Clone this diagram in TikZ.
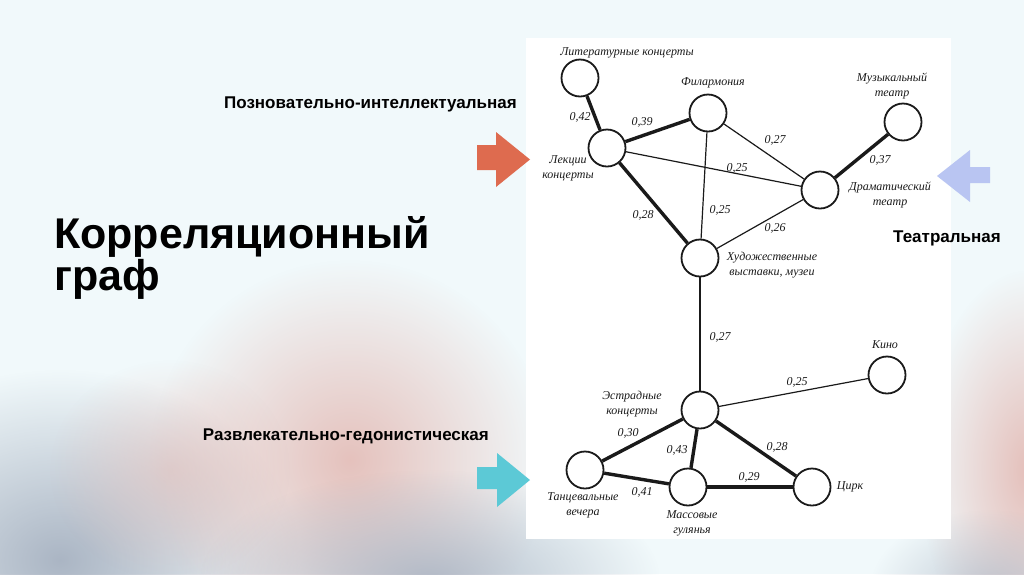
\documentclass[tikz,border=0pt]{standalone}
\usepackage{fontspec}
\setmainfont{Liberation Serif}
\setsansfont{Liberation Sans}
\usetikzlibrary{fadings}
\tikzfading[name=softblob, inner color=transparent!0, outer color=transparent!100]
\definecolor{bg}{HTML}{F1F9FB}
\definecolor{pinkA}{HTML}{E3B8B2}
\definecolor{grayA}{HTML}{A3AEBE}
\definecolor{orangeA}{HTML}{DE6B4F}
\definecolor{cyanA}{HTML}{5CC9D6}
\definecolor{lavA}{HTML}{B9C5F2}
\definecolor{ink}{HTML}{1A1A1A}
\tikzset{
  vtx/.style={circle, draw=ink, line width=1.8pt, fill=white, minimum size=37pt, inner sep=0pt},
  thinedge/.style={draw=ink, line width=1.2pt},
  thickedge/.style={draw=ink, line width=3.4pt},
  lbl/.style={font=\itshape\fontsize{12}{15}\selectfont, text=ink, align=center, inner sep=0pt},
  num/.style={font=\itshape\fontsize{12}{14}\selectfont, text=ink, inner sep=0pt},
  cat/.style={font=\sffamily\bfseries\fontsize{17}{19}\selectfont, text=black, inner sep=0pt},
  ttl/.style={font=\sffamily\bfseries\fontsize{43}{43}\selectfont, anchor=base west, inner sep=0pt},
}
\begin{document}
\begin{tikzpicture}[x=1pt,y=-1pt]
\useasboundingbox (0,0) rectangle (1024,574);
% background
\fill[bg] (0,0) rectangle (1024,574);
\fill[grayA, path fading=softblob, opacity=0.9] (60,560) ellipse (240 and 190);
\fill[pinkA, path fading=softblob, opacity=0.85] (350,460) ellipse (200 and 200);
\fill[grayA, path fading=softblob, opacity=0.8] (430,580) ellipse (230 and 110);
\fill[pinkA, path fading=softblob, opacity=0.5] (170,470) ellipse (120 and 110);
\fill[pinkA, path fading=softblob, opacity=0.9] (1030,470) ellipse (110 and 200);
\fill[grayA, path fading=softblob, opacity=0.6] (990,590) ellipse (120 and 80);
% white panel
\fill[white] (526,38) rectangle (951,539);

% title
\node[ttl] (t1) at (54,248) {Корреляционный};
\node[ttl] (t2) at (54,290) {граф};

% category labels
\node[cat, anchor=east] (c1) at (517,104) {Позновательно-интеллектуальная};
\node[cat, anchor=east] (c2) at (489,436) {Развлекательно-гедонистическая};
\node[cat, anchor=west] (c3) at (893,238) {Театральная};

% category arrows
\fill[orangeA] (477,145) -- (496,145) -- (496,132) -- (530,159.5) -- (496,187) -- (496,170) -- (477,170) -- cycle;
\fill[cyanA] (477,467) -- (497,467) -- (497,453) -- (530,480) -- (497,507) -- (497,489) -- (477,489) -- cycle;
\fill[lavA] (990,167) -- (970,167) -- (970,150) -- (937,176) -- (970,202) -- (970,183) -- (990,183) -- cycle;

% vertices
\node[vtx] (lit) at (580,78) {};
\node[vtx] (lek) at (607,148) {};
\node[vtx] (fil) at (708,113) {};
\node[vtx] (mus) at (903,122) {};
\node[vtx] (dram) at (820,190) {};
\node[vtx] (hud) at (700,258) {};
\node[vtx] (est) at (700,410) {};
\node[vtx] (kino) at (887,375) {};
\node[vtx] (circ) at (812,487) {};
\node[vtx] (mass) at (688,487) {};
\node[vtx] (tanc) at (585,470) {};

% edges
\path[thickedge] (lit) -- (lek);
\path[thickedge] (lek) -- (fil);
\path[thinedge] (lek) -- (dram);
\path[thickedge] (lek) -- (hud);
\path[thinedge] (fil) -- (dram);
\path[thinedge] (fil) -- (hud);
\path[thickedge] (mus) -- (dram);
\path[thinedge] (dram) -- (hud);
\path[thinedge] (hud) -- (est);
\path[thinedge] (est) -- (kino);
\path[thickedge] (est) -- (tanc);
\path[thickedge] (est) -- (mass);
\path[thickedge] (est) -- (circ);
\path[thickedge] (tanc) -- (mass);
\path[thickedge] (mass) -- (circ);

% vertex labels
\node[lbl] (llit) at (627,53) {Литературные концерты};
\node[lbl] (lfil) at (713,83) {Филармония};
\node[lbl] (lmus) at (892,86) {Музыкальный\\театр};
\node[lbl] (ldram) at (890,195) {Драматический\\театр};
\node[lbl] (llek) at (568,168) {Лекции\\концерты};
\node[lbl] (lhud) at (772,265) {Художественные\\выставки, музеи};
\node[lbl] (lest) at (632,404) {Эстрадные\\концерты};
\node[lbl] (ltanc) at (583,505) {Танцевальные\\вечера};
\node[lbl] (lmass) at (692,523) {Массовые\\гулянья};
\node[lbl] (lkino) at (885,345) {Кино};
\node[lbl] (lcirc) at (850,487) {Цирк};

% edge weights
\node[num] (w1) at (580,117) {0,42};
\node[num] (w2) at (642,122) {0,39};
\node[num] (w3) at (737,168) {0,25};
\node[num] (w4) at (643,215) {0,28};
\node[num] (w5) at (775,140) {0,27};
\node[num] (w6) at (720,210) {0,25};
\node[num] (w7) at (880,160) {0,37};
\node[num] (w8) at (775,228) {0,26};
\node[num] (w9) at (720,337) {0,27};
\node[num] (w10) at (797,382) {0,25};
\node[num] (w11) at (628,433) {0,30};
\node[num] (w12) at (677,450) {0,43};
\node[num] (w13) at (777,447) {0,28};
\node[num] (w14) at (642,492) {0,41};
\node[num] (w15) at (749,477) {0,29};
\end{tikzpicture}
\end{document}
